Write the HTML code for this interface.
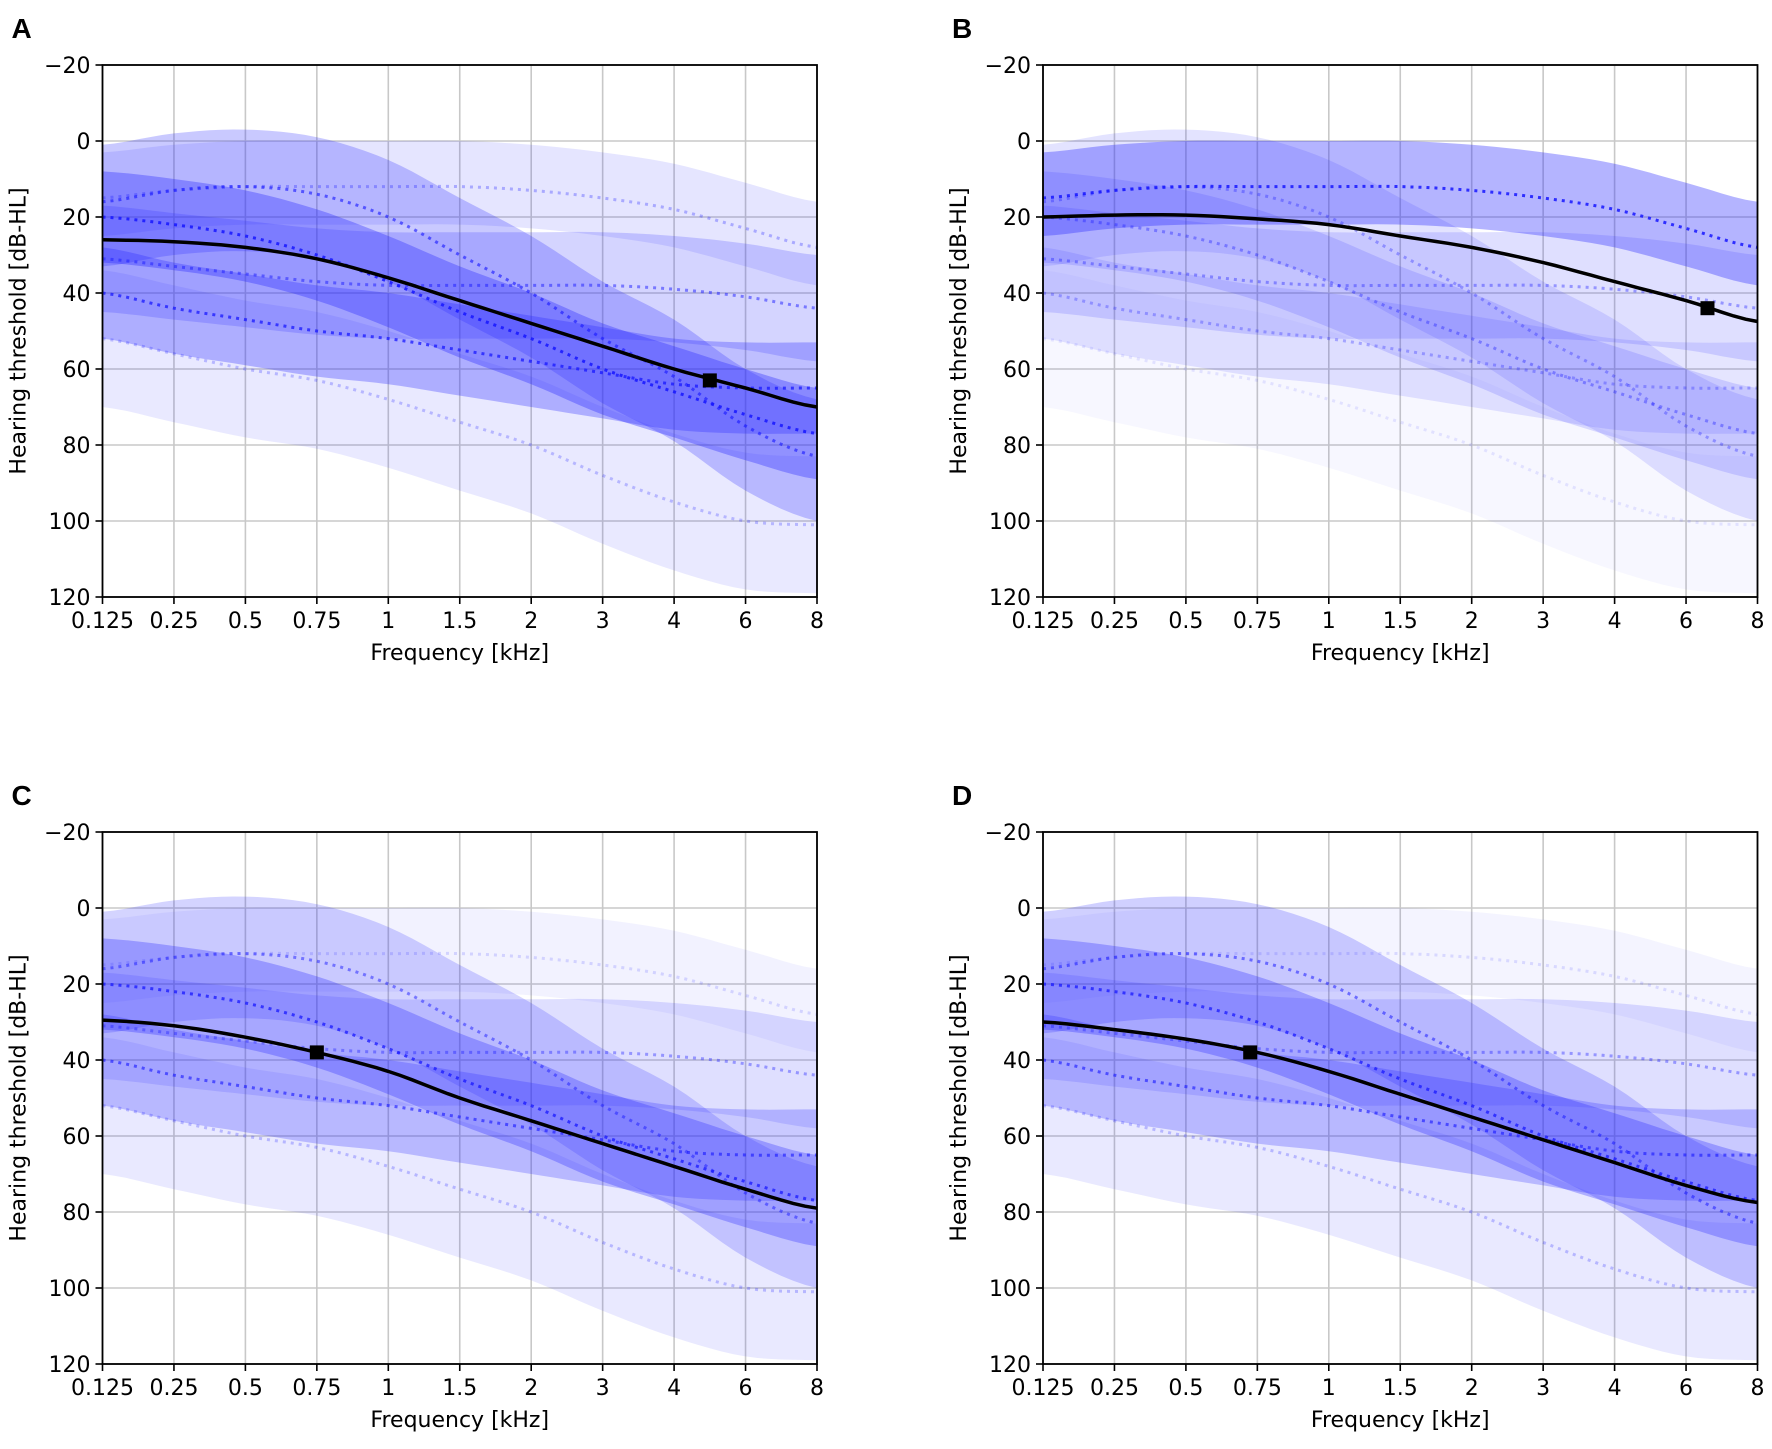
<!DOCTYPE html>
<html><head><meta charset="utf-8"><style>
html,body{margin:0;padding:0;background:#fff;}
svg{display:block;font-family:"DejaVu Sans","Liberation Sans",sans-serif;}
</style></head><body>
<svg id="s" width="1772" height="1449" viewBox="0 0 1772 1449" xmlns="http://www.w3.org/2000/svg"></svg>
<script>
const S=document.getElementById('s');
let out='';
const W=714.5,H=532;
const P=[
 {m:[15,13,12,12,12,12,13,15,18,23,28],u:12,l:10},
 {m:[16,13,12,14,20,30,40,52,62,75,83],u:15,l:17},
 {m:[20,22,25,30,37,45,52,60,66,72,77],u:12,l:12},
 {m:[31,33,35,37,38,38,38,38,39,41,44],u:14,l:14},
 {m:[40,44,47,50,52,55,58,61,64,65,65],u:12,l:12},
 {m:[52,56,60,63,68,74,80,88,95,100,101],u:18,l:18}
];
const panels=[
 {x:102.5,y:65,L:'A',a:[.12,.25,.35,.2,.3,.1],b:[26,26.5,28,31,36,42,48,54,60,65,70],mk:[8.5,63]},
 {x:1043,y:65,L:'B',a:[.35,.13,.15,.15,.12,.04],b:[20,19.5,19.5,20.5,22,25,28,32,37,42,47.5],mk:[9.3,44]},
 {x:102.5,y:832,L:'C',a:[.06,.2,.3,.15,.25,.1],b:[29.5,31,34,38,43,50,56,62,68,74,79],mk:[3,38]},
 {x:1043,y:832,L:'D',a:[.05,.22,.3,.15,.25,.1],b:[30,32,34.5,38,43,49,55,61,67,73,77.5],mk:[2.9,38]}
];
function interp(arr,t){const i=Math.min(9,Math.floor(t));const f=t-i;
 const p0=arr[Math.max(0,i-1)],p1=arr[i],p2=arr[i+1],p3=arr[Math.min(10,i+2)];
 return 0.5*((2*p1)+(-p0+p2)*f+(2*p0-5*p1+4*p2-p3)*f*f+(-p0+3*p1-3*p2+p3)*f*f*f);}
const ticks=['0.125','0.25','0.5','0.75','1','1.5','2','3','4','6','8'];
panels.forEach(p=>{
 const X=i=>p.x+i*W/10, Y=d=>p.y+(d+20)*3.8;
 out+=`<text x="${p.x-91}" y="${p.y-27}" font-size="28" font-weight="bold" font-family="Liberation Sans,sans-serif">${p.L}</text>`;
 for(let i=0;i<=10;i++) out+=`<line x1="${X(i)}" y1="${p.y}" x2="${X(i)}" y2="${p.y+H}" stroke="#c8c8c8" stroke-width="1.6"/>`;
 for(let d=-20;d<=120;d+=20) out+=`<line x1="${p.x}" y1="${Y(d)}" x2="${p.x+W}" y2="${Y(d)}" stroke="#c8c8c8" stroke-width="1.6"/>`;
 const N=60;
 P.forEach((q,k)=>{
  let top=[],bot=[];
  for(let j=0;j<=N;j++){const t=j*10/N;const m=interp(q.m,t);top.push(X(t).toFixed(1)+','+Y(m-q.u).toFixed(1));bot.push(X(t).toFixed(1)+','+Y(m+q.l).toFixed(1));}
  out+=`<polygon points="${top.join(' ')} ${bot.reverse().join(' ')}" fill="rgb(40,40,255)" fill-opacity="${p.a[k]}"/>`;
 });
 P.forEach((q,k)=>{
  let pts=[];for(let j=0;j<=N;j++){const t=j*10/N;pts.push(X(t).toFixed(1)+','+Y(interp(q.m,t)).toFixed(1));}
  out+=`<polyline points="${pts.join(' ')}" fill="none" stroke="rgb(20,20,255)" stroke-opacity="${Math.min(1,p.a[k]*2.4)}" stroke-width="3" stroke-dasharray="3 5"/>`;
 });
 let pts=[];for(let j=0;j<=N;j++){const t=j*10/N;pts.push(X(t).toFixed(1)+','+Y(interp(p.b,t)).toFixed(1));}
 out+=`<polyline points="${pts.join(' ')}" fill="none" stroke="#000" stroke-width="3.5"/>`;
 out+=`<rect x="${X(p.mk[0])-7}" y="${Y(p.mk[1])-7}" width="14" height="14" fill="#000"/>`;
 out+=`<rect x="${p.x}" y="${p.y}" width="${W}" height="${H}" fill="none" stroke="#000" stroke-width="1.8"/>`;
 for(let i=0;i<=10;i++){out+=`<line x1="${X(i)}" y1="${p.y+H}" x2="${X(i)}" y2="${p.y+H+7}" stroke="#000" stroke-width="1.6"/>`;
  out+=`<text x="${X(i)}" y="${p.y+H+31}" font-size="22" text-anchor="middle">${ticks[i]}</text>`;}
 for(let d=-20;d<=120;d+=20){out+=`<line x1="${p.x-7}" y1="${Y(d)}" x2="${p.x}" y2="${Y(d)}" stroke="#000" stroke-width="1.6"/>`;
  out+=`<text x="${p.x-12}" y="${Y(d)+8}" font-size="22" text-anchor="end">${d<0?'\u2212'+(-d):d}</text>`;}
 out+=`<text x="${p.x+W/2}" y="${p.y+H+63}" font-size="22" text-anchor="middle">Frequency [kHz]</text>`;
 out+=`<text transform="translate(${p.x-77},${p.y+H/2}) rotate(-90)" font-size="22" text-anchor="middle">Hearing threshold [dB-HL]</text>`;
});
S.innerHTML=out;
</script>
</body></html>
